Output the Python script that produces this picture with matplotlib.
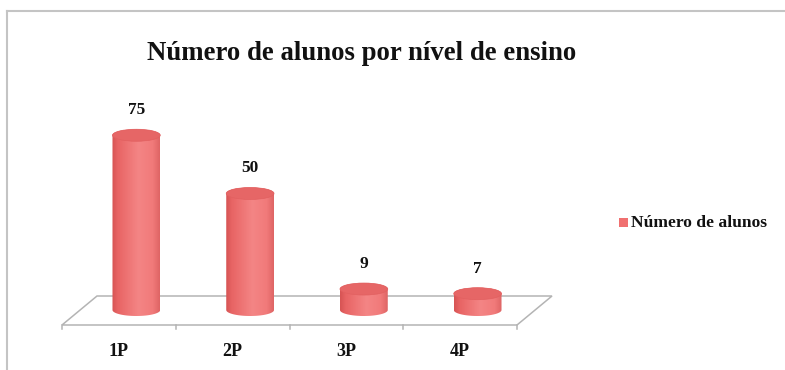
import numpy as np
import matplotlib
matplotlib.use("Agg")
import matplotlib.pyplot as plt
from matplotlib.patches import Ellipse, Polygon, Rectangle, PathPatch
from matplotlib.path import Path
from matplotlib.colors import LinearSegmentedColormap
from matplotlib.lines import Line2D

# Data
categories = ["1P", "2P", "3P", "4P"]
alunos = [75, 50, 9, 7]
series_name = "Número de alunos"
title = "Número de alunos por nível de ensino"

W, H = 785, 370
fig = plt.figure(figsize=(W / 100, H / 100), dpi=100)
ax = fig.add_axes([0, 0, 1, 1])

# pixel scale of the plotting area
x0_px, cat_px = 62, 113.75      # left front corner of floor, width of one category
zero_px, val_px = 310, 2.33     # row of value zero, pixels per unit
ax.set_xlim(-x0_px / cat_px, (W - x0_px) / cat_px)
ax.set_ylim(-(H - zero_px) / val_px, zero_px / val_px)
ax.axis("off")

serif = "Liberation Serif"
n = len(categories)

# floor (3D base plane)
dx = 35 / cat_px
front = -15 / val_px
back = 14 / val_px
floor_col = "#b4b4b4"
floor = Polygon([(0, front), (n, front), (n + dx, back), (dx, back)],
                closed=True, fill=False, edgecolor=floor_col, lw=1.1, zorder=1)
ax.add_patch(floor)
tick_len = 4 / val_px
for i in range(n + 1):
    ax.plot([i, i], [front, front - tick_len], color=floor_col, lw=1.1, zorder=1)

# cylinders
cyl_w = 0.42
ell_h = 12 / val_px
cmap = LinearSegmentedColormap.from_list(
    "cyl", [(0.0, "#d65454"), (0.12, "#e86464"), (0.55, "#f48585"),
            (0.85, "#f17a7a"), (1.0, "#de6464")])
grad = np.linspace(0, 1, 256)[None, :]

for i, (cat, v) in enumerate(zip(categories, alunos)):
    cx = i + 0.5 + dx / 2
    left, right = cx - cyl_w / 2, cx + cyl_w / 2
    t = np.linspace(np.pi, 2 * np.pi, 60)
    bottom_arc = [(cx + cyl_w / 2 * np.cos(a), ell_h / 2 * np.sin(a)) for a in t]
    t2 = np.linspace(0, np.pi, 60)
    top_arc = [(cx + cyl_w / 2 * np.cos(a), v + ell_h / 2 * np.sin(a)) for a in t2]
    verts = [(left, v)] + bottom_arc + [(right, v)] + top_arc[1:] + [(left, v)]
    codes = [Path.MOVETO] + [Path.LINETO] * (len(verts) - 2) + [Path.CLOSEPOLY]
    body = PathPatch(Path(verts, codes), facecolor="none", edgecolor="none", zorder=2)
    ax.add_patch(body)
    im = ax.imshow(grad, cmap=cmap, aspect="auto", zorder=2,
                   extent=[left, right, -ell_h, v + ell_h], interpolation="bilinear")
    im.set_clip_path(body)
    top = Ellipse((cx, v), cyl_w, ell_h, angle=0, facecolor="#e66666",
                  edgecolor="#e26060", lw=0.5, zorder=3)
    ax.add_patch(top)
    ax.annotate(str(v), (cx, v), xytext=(0, 18), textcoords="offset points",
                ha="center", va="center", fontsize=12.5, fontweight="bold",
                family=serif, color="#111111")
    ax.annotate(cat, (i + 0.5, front), xytext=(0, -19), textcoords="offset points",
                ha="center", va="center", fontsize=13, fontweight="bold",
                family=serif, color="#111111")

# title
fig.text(362 / W, 1 - 53 / H, title, ha="center", va="center", fontsize=19.3,
         fontweight="bold", family=serif, color="#111111")

# legend
fig.patches.append(Rectangle((619 / W, 1 - 227 / H), 9 / W, 9 / H,
                             transform=fig.transFigure, facecolor="#f07070",
                             edgecolor="none"))
fig.text(631 / W, 1 - 223 / H, series_name, ha="left", va="center", fontsize=12.6,
         fontweight="bold", family=serif, color="#111111")

# chart-area border (top and left)
fig.add_artist(Line2D([7 / W, 1], [1 - 11 / H, 1 - 11 / H], transform=fig.transFigure,
                      color="#c4c4c4", lw=1.5))
fig.add_artist(Line2D([7 / W, 7 / W], [0, 1 - 11 / H], transform=fig.transFigure,
                      color="#c4c4c4", lw=1.5))

fig.savefig("out.png", dpi=100, facecolor="white")
